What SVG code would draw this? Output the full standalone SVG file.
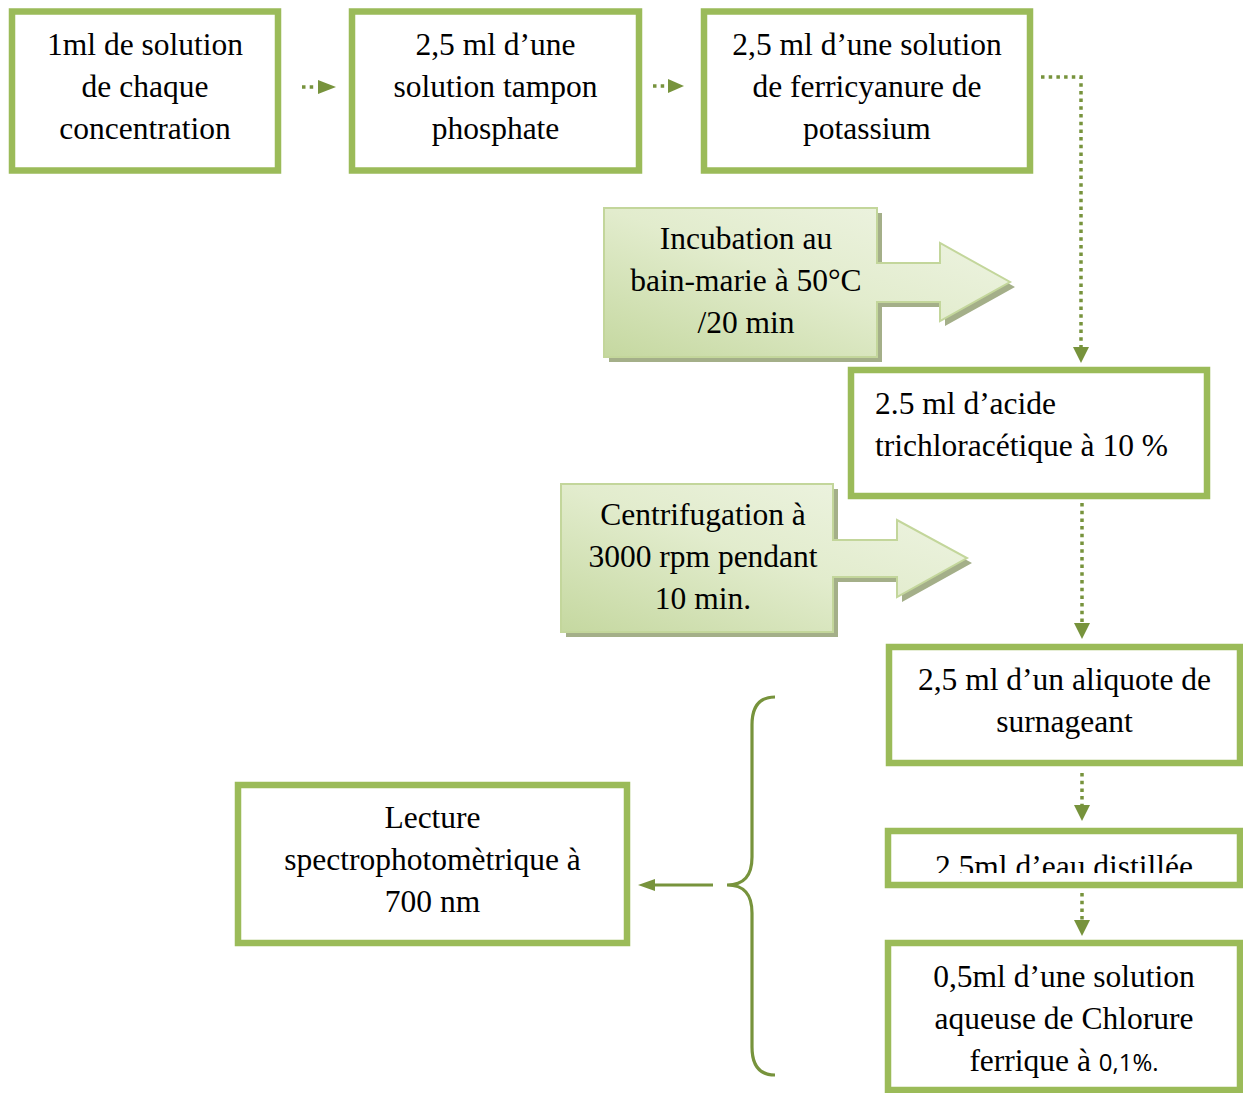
<svg xmlns="http://www.w3.org/2000/svg" width="1243" height="1093" viewBox="0 0 1243 1093">
<defs>
<style>
.box{fill:#fff;stroke:#9BBB59;stroke-width:6.5}
.t{font-family:"Liberation Serif","Times New Roman",serif;font-size:31.5px;fill:#000}
.c{text-anchor:middle}
.dot{fill:none;stroke:#77933C;stroke-width:3.5;stroke-dasharray:3.5 4.2}
.head{fill:#77933C}
.callout{fill:url(#g);stroke:#C3D69B;stroke-width:2}
.shadow{fill:#A4AF89}
</style>
<linearGradient id="g" x1="1" y1="0" x2="0" y2="1">
<stop offset="0" stop-color="#F0F5E6"/>
<stop offset="0.5" stop-color="#E2ECCD"/>
<stop offset="1" stop-color="#C5D8A0"/>
</linearGradient>
<clipPath id="clipEau"><rect x="880" y="820" width="363" height="53"/></clipPath>
</defs>

<g id="connectors">
<path class="dot" d="M302,87 L317,87"/>
<polygon class="head" points="318,80 336,87 318,94"/>
<path class="dot" d="M653,86 L666,86"/>
<polygon class="head" points="668,79 684,86 668,93"/>
<path class="dot" d="M1041,77 L1081,77 L1081,347"/>
<polygon class="head" points="1073,347 1089,347 1081,363"/>
<path class="dot" d="M1082,503 L1082,623"/>
<polygon class="head" points="1074,623 1090,623 1082,639"/>
<path class="dot" d="M1082,773 L1082,805"/>
<polygon class="head" points="1074,805 1090,805 1082,821"/>
<path class="dot" d="M1082,893 L1082,920"/>
<polygon class="head" points="1074,920 1090,920 1082,936"/>
<path d="M713,885 L652,885" fill="none" stroke="#77933C" stroke-width="3"/>
<polygon class="head" points="638,885 655,879 655,891"/>
<path id="brace" d="M775,697 C760,697 752,706 752,725 L752,857 C752,876 744,885 727,885 C744,885 752,894 752,913 L752,1047 C752,1066 760,1075 775,1075" fill="none" stroke="#77933C" stroke-width="3.2"/>
</g>

<g id="n1">
<rect class="box" x="12" y="11.5" width="266" height="159"/>
<text class="t c" x="145" y="55">1ml de solution</text>
<text class="t c" x="145" y="97">de chaque</text>
<text class="t c" x="145" y="139">concentration</text>
</g>

<g id="n2">
<rect class="box" x="352" y="11.5" width="287" height="159"/>
<text class="t c" x="495.5" y="55">2,5 ml d’une</text>
<text class="t c" x="495.5" y="97">solution tampon</text>
<text class="t c" x="495.5" y="139">phosphate</text>
</g>

<g id="n3">
<rect class="box" x="704" y="11.5" width="326" height="159"/>
<text class="t c" x="867" y="55">2,5 ml d’une solution</text>
<text class="t c" x="867" y="97">de ferricyanure de</text>
<text class="t c" x="867" y="139">potassium</text>
</g>

<g id="incubation">
<path class="shadow" d="M609,213 L882,213 L882,268 L945,268 L945,248 L1015,287 L945,326 L945,307 L882,307 L882,362 L609,362 Z"/>
<path class="callout" d="M604,208 L877,208 L877,263 L940,263 L940,243 L1010,282 L940,321 L940,302 L877,302 L877,357 L604,357 Z"/>
<text class="t c" x="746" y="249">Incubation au</text>
<text class="t c" x="746" y="291">bain-marie à 50°C</text>
<text class="t c" x="746" y="333">/20 min</text>
</g>

<g id="n4">
<rect class="box" x="851" y="370" width="356" height="126"/>
<text class="t" x="875" y="414">2.5 ml d’acide</text>
<text class="t" x="875" y="456">trichloracétique à 10 %</text>
</g>

<g id="centrifugation">
<path class="shadow" d="M566,489 L838,489 L838,545 L902,545 L902,525 L972,563 L902,602 L902,582 L838,582 L838,637 L566,637 Z"/>
<path class="callout" d="M561,484 L833,484 L833,540 L897,540 L897,520 L967,558 L897,597 L897,577 L833,577 L833,632 L561,632 Z"/>
<text class="t c" x="703" y="525">Centrifugation à</text>
<text class="t c" x="703" y="567">3000 rpm pendant</text>
<text class="t c" x="703" y="609">10 min.</text>
</g>

<g id="n5">
<rect class="box" x="889" y="647" width="351" height="116"/>
<text class="t c" x="1064.5" y="690">2,5 ml d’un aliquote de</text>
<text class="t c" x="1064.5" y="732">surnageant</text>
</g>

<g id="n6">
<rect class="box" x="888" y="831" width="352" height="54"/>
<text class="t c" x="1064" y="877" clip-path="url(#clipEau)">2.5ml d’eau distillée</text>
</g>

<g id="n7">
<rect class="box" x="888" y="943" width="352" height="147"/>
<text class="t c" x="1064" y="987">0,5ml d’une solution</text>
<text class="t c" x="1064" y="1029">aqueuse de Chlorure</text>
<text class="t c" x="1064" y="1071">ferrique à <tspan font-family="'Open Sans','Liberation Sans',sans-serif" font-size="24px">0,1%.</tspan></text>
</g>

<g id="lecture">
<rect class="box" x="238" y="785" width="389" height="158"/>
<text class="t c" x="432.5" y="828">Lecture</text>
<text class="t c" x="432.5" y="870">spectrophotomètrique à</text>
<text class="t c" x="432.5" y="912">700 nm</text>
</g>
</svg>
